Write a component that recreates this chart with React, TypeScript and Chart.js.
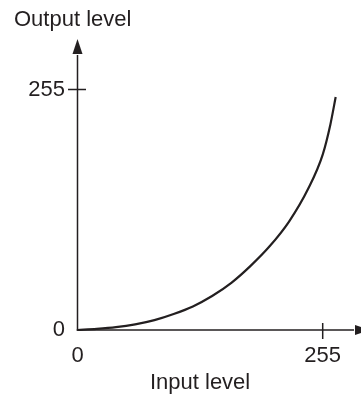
import React, { useEffect, useRef } from "react";
import { Chart, registerables } from "chart.js";

Chart.register(...registerables);

// Data
const inputLevels = [0, 20, 40, 60, 80, 100, 120, 140, 160, 180, 200, 220, 240, 255, 263, 268.5];
const outputLevels = [0, 1.2, 3, 6, 10.5, 17, 25, 36, 50, 68, 89, 115, 150, 186, 218, 247];
const xTickValues = [0, 255];
const yTickValues = [0, 255];
const xTitle = "Input level";
const yTitle = "Output level";

const INK = "#231f20";
const FONT = "'Liberation Sans', Arial, Helvetica, sans-serif";

const axesPlugin = {
  id: "axesArrows",
  beforeDatasetsDraw(chart: any) {
    const { ctx, scales } = chart;
    const x = scales.x;
    const y = scales.y;
    const x0 = x.getPixelForValue(0);
    const y0 = y.getPixelForValue(0);
    const xT = x.getPixelForValue(xTickValues[1]);
    const yT = y.getPixelForValue(yTickValues[1]);
    ctx.save();
    ctx.strokeStyle = INK;
    ctx.fillStyle = INK;
    ctx.lineWidth = 1.5;
    // y axis
    const yBase = yT - 35.5;
    ctx.beginPath();
    ctx.moveTo(x0, y0 + 0.75);
    ctx.lineTo(x0, yBase + 1);
    ctx.stroke();
    ctx.beginPath();
    ctx.moveTo(x0 - 5, yBase);
    ctx.lineTo(x0 + 5, yBase);
    ctx.lineTo(x0, yBase - 15);
    ctx.closePath();
    ctx.fill();
    // x axis
    const xBase = xT + 32.3;
    ctx.beginPath();
    ctx.moveTo(x0 - 0.75, y0);
    ctx.lineTo(xBase - 1, y0);
    ctx.stroke();
    ctx.beginPath();
    ctx.moveTo(xBase, y0 - 5);
    ctx.lineTo(xBase, y0 + 5);
    ctx.lineTo(xBase + 15, y0);
    ctx.closePath();
    ctx.fill();
    // tick marks
    ctx.beginPath();
    ctx.moveTo(x0 - 9.5, yT);
    ctx.lineTo(x0 + 8.5, yT);
    ctx.moveTo(xT, y0 - 7);
    ctx.lineTo(xT, y0 + 9);
    ctx.stroke();
    ctx.restore();
  },
};

export default function App() {
  const ref = useRef<HTMLCanvasElement | null>(null);

  useEffect(() => {
    const canvas = ref.current;
    if (!canvas) return;
    const chart = new Chart(canvas, {
      type: "line",
      data: {
        datasets: [
          {
            data: inputLevels.map((v, i) => ({ x: v, y: outputLevels[i] })),
            borderColor: INK,
            borderWidth: 2.2,
            pointRadius: 0,
            fill: false,
            cubicInterpolationMode: "monotone",
            clip: false as any,
          },
        ],
      },
      options: {
        animation: false,
        responsive: false,
        devicePixelRatio: 1,
        layout: { padding: { left: 14, right: 38.3, top: 0, bottom: 0 } },
        plugins: {
          legend: { display: false },
          tooltip: { enabled: false },
          title: {
            display: true,
            text: yTitle,
            align: "start",
            color: INK,
            font: { family: FONT, size: 22, weight: "normal" },
            padding: { top: 6.8, bottom: 56.3 },
          },
        },
        scales: {
          x: {
            type: "linear",
            bounds: "data",
            afterDataLimits: (s: any) => {
              s.min = xTickValues[0];
              s.max = xTickValues[1];
            },
            afterBuildTicks: (s: any) => {
              s.ticks = xTickValues.map((v) => ({ value: v }));
            },
            afterFit: (s: any) => {
              s.height = 72;
            },
            grid: { display: false, drawTicks: false },
            border: { display: false },
            ticks: {
              color: INK,
              font: { family: FONT, size: 22 },
              padding: 13,
              autoSkip: false,
              maxRotation: 0,
            },
            title: {
              display: true,
              text: xTitle,
              color: INK,
              font: { family: FONT, size: 22 },
              padding: { top: 0, bottom: 5.8 },
            },
          },
          y: {
            type: "linear",
            bounds: "data",
            afterDataLimits: (s: any) => {
              s.min = yTickValues[0];
              s.max = yTickValues[1];
            },
            afterBuildTicks: (s: any) => {
              s.ticks = yTickValues.map((v) => ({ value: v }));
            },
            afterFit: (s: any) => {
              s.width = 63.5;
            },
            grid: { display: false, drawTicks: false },
            border: { display: false },
            ticks: {
              color: INK,
              font: { family: FONT, size: 22 },
              padding: 12.5,
              autoSkip: false,
            },
          },
        },
      },
      plugins: [axesPlugin],
    } as any);
    return () => chart.destroy();
  }, []);

  return (
    <div style={{ position: "fixed", left: 0, top: 0, width: 361, height: 402, background: "#fff" }}>
      <canvas ref={ref} width={361} height={402} style={{ display: "block" }} />
    </div>
  );
}
